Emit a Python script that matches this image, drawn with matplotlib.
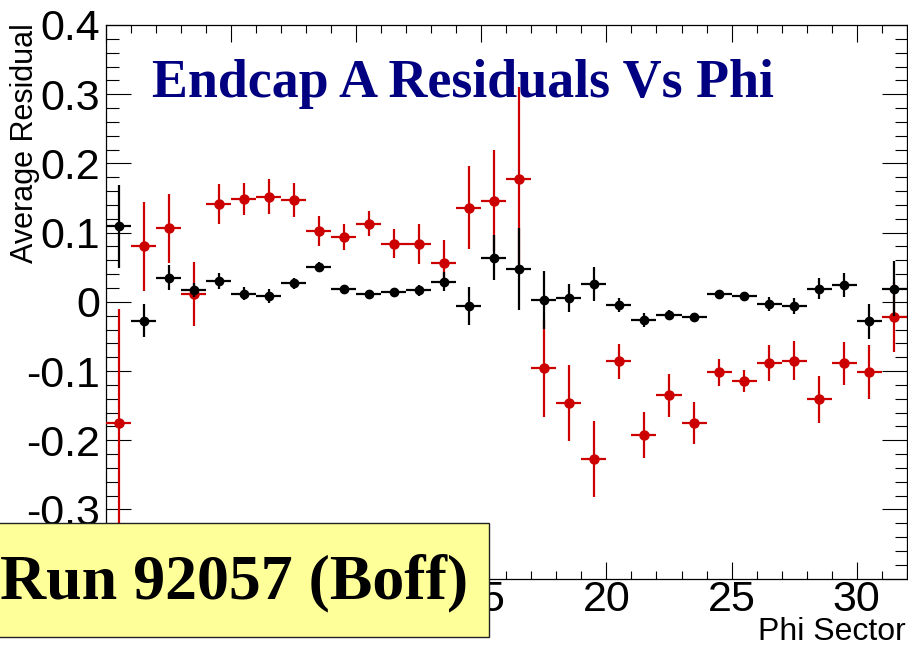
import matplotlib
matplotlib.use("Agg")
import matplotlib.pyplot as plt
from matplotlib.ticker import MultipleLocator, FuncFormatter
from matplotlib.patches import Rectangle
import numpy as np

plt.rcParams['axes.unicode_minus'] = False

# Phi sector bins (centers 0.5 .. 31.5)
sectors = np.arange(32) + 0.5

black_vals = [0.109, -0.027, 0.035, 0.017, 0.030, 0.012, 0.008, 0.027, 0.050, 0.019,
              0.011, 0.014, 0.017, 0.029, -0.006, 0.064, 0.047, 0.003, 0.006, 0.026,
              -0.005, -0.026, -0.019, -0.022, 0.011, 0.008, -0.003, -0.006, 0.019, 0.024,
              -0.028, 0.019]
black_errs = [0.060, 0.024, 0.018, 0.010, 0.012, 0.010, 0.010, 0.008, 0.007, 0.006,
              0.005, 0.006, 0.008, 0.014, 0.027, 0.033, 0.059, 0.042, 0.020, 0.025,
              0.010, 0.010, 0.007, 0.006, 0.005, 0.004, 0.010, 0.012, 0.015, 0.017,
              0.025, 0.040]

red_vals = [-0.175, 0.080, 0.106, 0.011, 0.141, 0.148, 0.152, 0.147, 0.102, 0.094,
            0.113, 0.084, 0.084, 0.056, 0.136, 0.146, 0.178, -0.096, -0.146, -0.227,
            -0.086, -0.192, -0.135, -0.175, -0.102, -0.114, -0.089, -0.085, -0.141, -0.089,
            -0.101, -0.022]
red_errs = [0.165, 0.064, 0.050, 0.046, 0.029, 0.023, 0.025, 0.025, 0.022, 0.019,
            0.018, 0.021, 0.029, 0.033, 0.060, 0.073, 0.132, 0.070, 0.055, 0.055,
            0.025, 0.033, 0.031, 0.031, 0.019, 0.016, 0.026, 0.028, 0.034, 0.031,
            0.039, 0.051]

x_ticks = [0, 5, 10, 15, 20, 25, 30]
y_ticks = [-0.4, -0.3, -0.2, -0.1, 0.0, 0.1, 0.2, 0.3, 0.4]

fig = plt.figure(figsize=(9.08, 6.45), dpi=100)
ax = fig.add_axes([106/908, 1 - 578.7/645, (906.7 - 106)/908, (578.7 - 25)/645])

ax.errorbar(sectors, red_vals, yerr=red_errs, xerr=0.5, fmt='o', color='#cc0000',
            ms=6.5, elinewidth=1.6, capsize=0, zorder=3)
ax.errorbar(sectors, black_vals, yerr=black_errs, xerr=0.5, fmt='o', color='black',
            ms=6.0, elinewidth=1.6, capsize=0, zorder=4)

ax.set_xlim(0, 32)
ax.set_ylim(-0.4, 0.4)
ax.set_xticks(x_ticks)
ax.set_yticks(y_ticks)
ax.xaxis.set_minor_locator(MultipleLocator(1))
ax.yaxis.set_minor_locator(MultipleLocator(0.02))
ax.yaxis.set_major_formatter(FuncFormatter(lambda v, p: '0' if abs(v) < 1e-9 else f'{v:.1f}'))
ax.xaxis.set_major_formatter(FuncFormatter(lambda v, p: f'{int(round(v))}'))

ax.tick_params(axis='both', which='both', direction='in', top=True, right=True,
               width=0.8, color='black')
ax.tick_params(axis='y', which='major', length=18, pad=4)
ax.tick_params(axis='y', which='minor', length=9)
ax.tick_params(axis='x', which='major', length=12, pad=1)
ax.tick_params(axis='x', which='minor', length=6)
for lab in ax.get_xticklabels() + ax.get_yticklabels():
    lab.set_fontfamily('Liberation Sans')
    lab.set_fontsize(31)
for s in ax.spines.values():
    s.set_linewidth(0.9)

fig.text(152/908, 1 - 97/645, 'Endcap A Residuals Vs Phi', fontfamily='Liberation Serif',
         fontweight='bold', fontsize=38.8, color='#000080', ha='left', va='baseline')

fig.text(25/908, 1 - 23/645, 'Average Residual', fontfamily='Liberation Sans', fontsize=22,
         rotation=90, ha='center', va='top')
fig.text(906/908, 1 - 640/645, 'Phi Sector', fontfamily='Liberation Sans', fontsize=23,
         ha='right', va='baseline')

box = Rectangle((-0.01, 1 - 637.3/645), 489.3/908 + 0.01, (637.3 - 522.7)/645,
                transform=fig.transFigure, facecolor='#ffff99', edgecolor='#222222',
                linewidth=1.0, zorder=10)
fig.patches.append(box)
fig.text(0.0, 1 - 598/645, 'Run 92057 (Boff)', fontfamily='Liberation Serif',
         fontweight='bold', fontsize=46, color='black', ha='left', va='baseline', zorder=11)

fig.savefig('out.png', dpi=100)
